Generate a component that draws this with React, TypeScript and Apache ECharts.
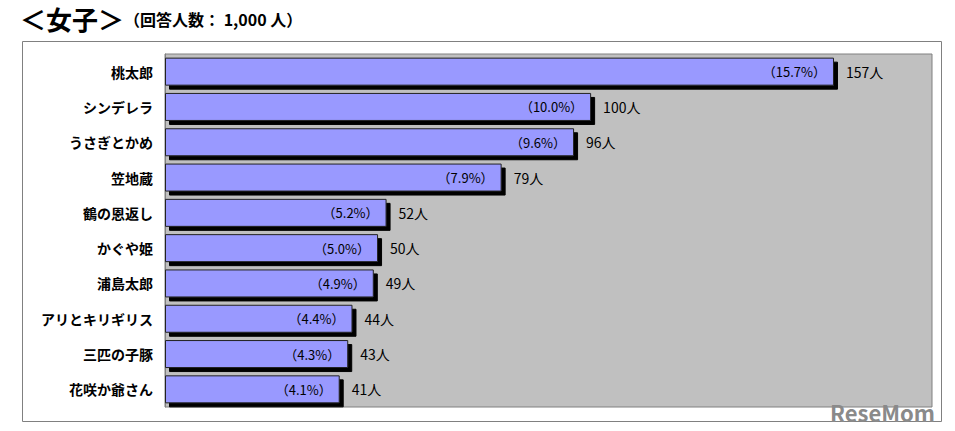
import React, { useEffect, useRef } from "react";
import * as echarts from "echarts";

const categories = ["桃太郎", "シンデレラ", "うさぎとかめ", "笠地蔵", "鶴の恩返し", "かぐや姫", "浦島太郎", "アリとキリギリス", "三匹の子豚", "花咲か爺さん"];
const counts = [157, 100, 96, 79, 52, 50, 49, 44, 43, 41];
const percents = ["15.7", "10.0", "9.6", "7.9", "5.2", "5.0", "4.9", "4.4", "4.3", "4.1"];

const FONT = "'Noto Sans CJK JP', 'Noto Sans', sans-serif";

export default function App() {
  const ref = useRef<HTMLDivElement>(null);
  useEffect(() => {
    if (!ref.current) return;
    const chart = echarts.init(ref.current, undefined, { renderer: "svg" });
    chart.setOption({
      animation: false,
      backgroundColor: "#ffffff",
      textStyle: { fontFamily: FONT },
      graphic: [
        {
          type: "rect",
          shape: { x: 22.5, y: 41.5, width: 919, height: 380 },
          style: { fill: "none", stroke: "#808080", lineWidth: 1 },
          z: -10,
        },
        {
          type: "text",
          left: 20,
          top: 5,
          style: { text: "＜女子＞", font: `bold 26px ${FONT}`, fill: "#000" },
        },
        {
          type: "text",
          left: 124,
          top: 11,
          style: { text: "（回答人数： 1,000 人）", font: `bold 16px ${FONT}`, fill: "#000" },
        },
        {
          type: "text",
          right: 20,
          bottom: 8,
          style: { text: "ReseMom", font: `bold 22px ${FONT}`, fill: "#8a8a8a" },
          z: 100,
        },
      ],
      grid: {
        left: 165,
        top: 54,
        right: 23,
        bottom: 24,
        show: true,
        backgroundColor: "#c0c0c0",
        borderColor: "#808080",
        borderWidth: 1,
      },
      xAxis: {
        type: "value",
        min: 0,
        max: 180,
        show: false,
      },
      yAxis: {
        type: "category",
        data: categories,
        inverse: true,
        axisLine: { show: true, lineStyle: { color: "#808080" } },
        axisTick: { show: false },
        axisLabel: {
          color: "#000",
          fontSize: 14,
          fontWeight: "bold",
          fontFamily: FONT,
          margin: 12,
        },
      },
      series: [
        {
          type: "bar",
          data: counts,
          barWidth: 28,
          itemStyle: {
            color: "#9999ff",
            borderColor: "#222",
            borderWidth: 1,
            shadowColor: "#000",
            shadowOffsetX: 4,
            shadowOffsetY: 4,
            shadowBlur: 0,
          },
          label: {
            show: true,
            position: "insideRight",
            distance: 8,
            color: "#000",
            fontSize: 13,
            fontFamily: FONT,
            formatter: (p: any) => `（${percents[p.dataIndex]}%）`,
          },
        },
        {
          type: "bar",
          data: counts,
          barWidth: 28,
          barGap: "-100%",
          silent: true,
          itemStyle: { color: "rgba(0,0,0,0)" },
          label: {
            show: true,
            position: "right",
            distance: 12,
            color: "#000",
            fontSize: 14,
            fontFamily: FONT,
            formatter: (p: any) => `${counts[p.dataIndex]}人`,
          },
        },
      ],
    });
    return () => chart.dispose();
  }, []);
  return (
    <div
      ref={ref}
      style={{ position: "fixed", left: 0, top: 0, width: 955, height: 431 }}
    />
  );
}
